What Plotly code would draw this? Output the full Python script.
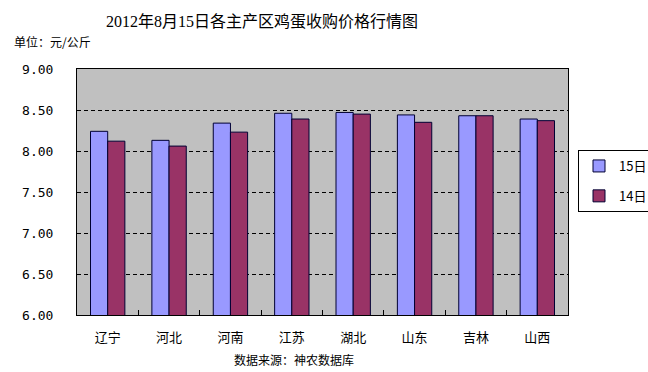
import plotly.graph_objects as go

categories = ["辽宁", "河北", "河南", "江苏", "湖北", "山东", "吉林", "山西"]
series_names = ["15日", "14日"]
values_15 = [8.24, 8.13, 8.34, 8.46, 8.47, 8.44, 8.43, 8.39]
values_14 = [8.12, 8.06, 8.23, 8.39, 8.45, 8.35, 8.43, 8.37]
y_ticks = [6.0, 6.5, 7.0, 7.5, 8.0, 8.5, 9.0]

title_text = "2012年8月15日各主产区鸡蛋收购价格行情图"
unit_text = "单位：元/公斤"
source_text = "数据来源：神农数据库"

FONT = "SimSun, 'Noto Sans CJK SC', sans-serif"
SERIF = "'Liberation Serif', 'Noto Sans CJK SC', serif"

L, R, T, B = 77, 80, 69, 57
W, H = 648, 372

fig = go.Figure()
fig.add_trace(go.Bar(x=categories, y=values_15, name=series_names[0], legendgroup="a",
                     marker=dict(color="#9999FF", line=dict(color="#000033", width=1))))
fig.add_trace(go.Bar(x=categories, y=values_14, name=series_names[1], legendgroup="b",
                     marker=dict(color="#993366", line=dict(color="#000033", width=1))))

fig.update_layout(
    width=W, height=H,
    margin=dict(l=L, r=R, t=T, b=B, autoexpand=False),
    paper_bgcolor="white", plot_bgcolor="#C0C0C0",
    barmode="group", bargap=0.44, bargroupgap=0,
    font=dict(family=FONT, size=12, color="black"),
    showlegend=True,
    legend=dict(x=(578 - L) / (W - L - R), y=(H - B - 150) / (H - T - B),
                xanchor="left", yanchor="top",
                bordercolor="black", borderwidth=1, bgcolor="white",
                font=dict(size=13, family=FONT), itemwidth=30, tracegroupgap=10),
    xaxis=dict(type="category", showline=True, linecolor="black", linewidth=1,
               ticks="inside", ticklen=5, tickcolor="black", tickson="boundaries",
               mirror=True, showgrid=False, ticklabelstandoff=10,
               tickfont=dict(size=13, family=FONT)),
    yaxis=dict(range=[6, 9], tickvals=y_ticks, tickformat=".2f",
               showline=True, linecolor="black", linewidth=1, mirror=True,
               showgrid=True, gridcolor="#000000", griddash="4px,3px", gridwidth=1,
               zeroline=False, ticks="", ticklabelstandoff=20,
               tickfont=dict(size=13, family="'DejaVu Sans Mono', monospace")),
)

pw = W - L - R
ph = H - T - B
def ann(text, px, py, size, family, anchor="center"):
    return dict(text=text, xref="paper", yref="paper",
                x=(px - L) / pw, y=(H - B - py) / ph, xanchor=anchor, yanchor="middle",
                showarrow=False, font=dict(size=size, family=family))

fig.update_layout(annotations=[
    ann(title_text, 262, 22, 16, SERIF),
    ann(unit_text, 12, 42, 12, FONT, "left"),
    ann(source_text, 294, 359, 12, FONT),
])
fig.write_html("out.html", config={"displayModeBar": False},
               post_script="document.body.style.margin='0';document.body.style.overflow='hidden';")
